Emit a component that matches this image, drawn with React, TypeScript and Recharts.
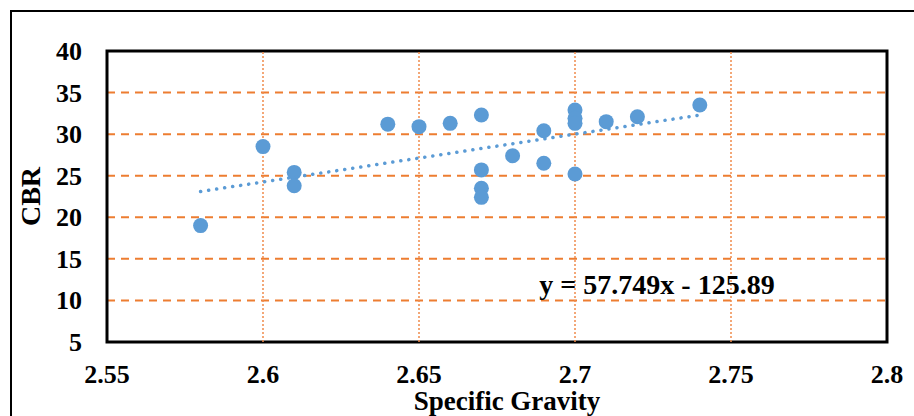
import {
  ScatterChart,
  Scatter,
  XAxis,
  YAxis,
  CartesianGrid,
  ReferenceArea,
  ReferenceLine,
  Label,
} from "recharts";

// Specific gravity vs CBR
const gravity = [
  2.58, 2.6, 2.61, 2.61, 2.64, 2.65, 2.66, 2.67, 2.67, 2.67, 2.67, 2.68, 2.69,
  2.69, 2.7, 2.7, 2.7, 2.7, 2.71, 2.72, 2.74,
];
const cbr = [
  19.0, 28.5, 25.4, 23.8, 31.2, 30.9, 31.3, 32.3, 25.7, 23.5, 22.4, 27.4, 30.4,
  26.5, 32.9, 31.9, 31.3, 25.2, 31.5, 32.1, 33.5,
];

// linear trendline endpoints
const trendX = [2.58, 2.74];
const trendY = [23.1, 32.3];

const xTicks = [2.55, 2.6, 2.65, 2.7, 2.75, 2.8];
const yTicks = [5, 10, 15, 20, 25, 30, 35, 40];
const equation = "y = 57.749x - 125.89";

const points = gravity.map((g, i) => ({ x: g, y: cbr[i] }));
const trend = trendX.map((g, i) => ({ x: g, y: trendY[i] }));

const FONT = "Liberation Serif, Times New Roman, serif";
const textStyle = { fontFamily: FONT, fontWeight: 700, fontSize: 26, fill: "#000" };

const XTick = (p: any) => (
  <g transform={`translate(${p.x},${p.y})`}>
    <text
      x={0}
      y={0}
      dy={19}
      textAnchor="middle"
      fontFamily={FONT}
      fontWeight="bold"
      fontSize={26}
      fill="#000"
      style={textStyle}
    >
      {String(p.payload.value)}
    </text>
  </g>
);

const YTick = (p: any) => (
  <text
    x={p.x}
    y={p.y}
    dy={9}
    textAnchor="end"
    fontFamily={FONT}
    fontWeight="bold"
    fontSize={26}
    fill="#000"
    style={textStyle}
  >
    {String(p.payload.value)}
  </text>
);

export default function App() {
  return (
    <div
      style={{
        position: "absolute",
        left: 0,
        top: 0,
        width: 914,
        height: 416,
        overflow: "hidden",
        background: "#fff",
      }}
    >
      <div
        style={{
          position: "absolute",
          left: 10,
          top: 10,
          width: 1000,
          height: 500,
          border: "2px solid #000",
        }}
      />
      <div style={{ position: "absolute", left: 0, top: 0 }}>
        <ScatterChart
          width={914}
          height={416}
          margin={{ top: 51, right: 27, bottom: 0, left: 10 }}
        >
          <CartesianGrid
            horizontal={true}
            vertical={false}
            stroke="#ED7D31"
            strokeWidth={2}
            strokeDasharray="8 6"
          />
          {xTicks.slice(1, -1).map((t) => (
            <ReferenceLine
              key={t}
              x={t}
              stroke="#F08A4B"
              strokeWidth={1.5}
              strokeDasharray="2 2"
              style={{ stroke: "#F08A4B" }}
            />
          ))}
          <XAxis
            type="number"
            dataKey="x"
            domain={[2.55, 2.8]}
            ticks={xTicks}
            allowDataOverflow
            height={74}
            axisLine={false}
            tickLine={false}
            tickSize={0}
            tickMargin={22}
            tick={XTick}
          >
            <Label
              value="Specific Gravity"
              position="insideBottom"
              offset={6}
              style={{ fontFamily: FONT, fontWeight: 700, fontSize: 27, fill: "#000" }}
              dx={10}
            />
          </XAxis>
          <YAxis
            type="number"
            dataKey="y"
            domain={[5, 40]}
            ticks={yTicks}
            allowDataOverflow
            width={97}
            axisLine={false}
            tickLine={false}
            tickSize={0}
            tickMargin={25}
            tick={YTick}
          >
            <Label
              value="CBR"
              angle={-90}
              position="insideLeft"
              offset={20}
              style={{
                fontFamily: FONT,
                fontWeight: 700,
                fontSize: 28,
                fill: "#000",
                textAnchor: "middle",
              }}
            />
          </YAxis>
          <ReferenceArea
            x1={2.55}
            x2={2.8}
            y1={5}
            y2={40}
            fill="none"
            stroke="#000"
            strokeWidth={3}
          />
          <Scatter
            data={points}
            fill="#5B9BD5"
            shape={(p: any) => <circle cx={p.cx} cy={p.cy} r={7.5} fill="#5B9BD5" />}
            isAnimationActive={false}
          />
          <Scatter
            data={trend}
            line={{
              stroke: "#5B9BD5",
              strokeWidth: 3.5,
              strokeDasharray: "0.1 8",
              strokeLinecap: "round",
            }}
            shape={() => <g />}
            isAnimationActive={false}
          />
          <ReferenceArea
            x1={2.7}
            x2={2.7}
            y1={10}
            y2={10}
            fill="none"
            stroke="none"
            label={{
              value: equation,
              position: "center",
              dx: 82,
              dy: -16,
              style: { fontFamily: FONT, fontWeight: 700, fontSize: 28, fill: "#000" },
            }}
          />
        </ScatterChart>
      </div>
    </div>
  );
}
